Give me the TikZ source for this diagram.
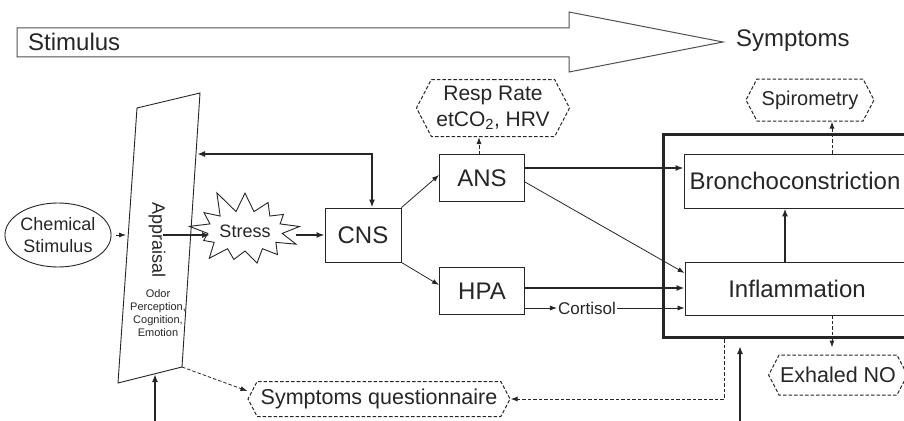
\documentclass[tikz,border=0pt]{standalone}
\usepackage{fontspec}
\setmainfont{Liberation Sans}
\usetikzlibrary{shapes.symbols,shapes.geometric,arrows.meta,calc}
\definecolor{ink}{HTML}{262626}
\definecolor{arrowgray}{HTML}{505050}
\newcommand\fzBig{\fontsize{24}{28}\selectfont}
\newcommand\fzMid{\fontsize{18}{22}\selectfont}
\newcommand\fzHex{\fontsize{21}{26}\selectfont}
\newcommand\fzSmall{\fontsize{11}{13}\selectfont}
\begin{document}
\begin{tikzpicture}[x=1pt,y=-1pt,
  every node/.style={text=ink, font=\fzBig},
  box/.style={draw=ink, line width=0.9pt, rectangle, inner sep=0pt},
  hexa/.style={draw=ink, line width=1pt, dash pattern=on 3.5pt off 2pt, signal, signal to=west and east, signal pointer angle=125, inner sep=1pt},
  thinarr/.style={draw=ink, line width=0.8pt, -{Latex[length=7pt,width=5pt]}},
  thkarr/.style={draw=ink, line width=2pt, -{Latex[length=8pt,width=6pt]}},
  dsharr/.style={draw=ink, line width=1pt, dash pattern=on 3.5pt off 2pt, -{Latex[length=7pt,width=5pt]}},
]
\clip (0,0) rectangle (904,420);
\fill[white] (0,0) rectangle (904,420);

% big arrow
\draw[arrowgray, line width=1pt] (17,28) -- (569,28) -- (569,12) -- (723,42) -- (569,72) -- (569,57) -- (17,57) -- cycle;
\node[anchor=west, inner sep=0] (stim) at (28,42) {Stimulus};
\node[anchor=west, inner sep=0] (symp) at (736,41) {Symptoms};

% chemical stimulus
\node[ellipse, draw=ink, line width=0.9pt, minimum width=96pt, minimum height=64pt, inner sep=0, align=center, font=\fzMid] (chem) at (58,235) {Chemical\\Stimulus};

% appraisal
\coordinate (ap1) at (137,108);
\coordinate (ap2) at (200,93);
\coordinate (ap3) at (182,367);
\coordinate (ap4) at (118,383);
\draw[ink, line width=0.9pt] (ap1) -- (ap2) -- (ap3) -- (ap4) -- cycle;
\node[rotate=-90, font=\fzMid, inner sep=0] (appr) at (157,240) {Appraisal};
\node[font=\fzSmall, align=center, inner sep=0] (odor) at (158,313) {Odor\\Perception,\\Cognition,\\Emotion};
\coordinate (apin) at (126,235);
\coordinate (apmid) at (163,235);
\coordinate (apfb) at (197,154);
\coordinate (apbot) at (155,374);

% stress
\node[starburst, draw=ink, line width=0.9pt, starburst points=13, starburst point height=24pt, random starburst=11, minimum width=104pt, minimum height=88pt, inner sep=1pt, font=\fzMid] (stress) at (245,231) {Stress};
\coordinate (stressin) at (210,235);
\coordinate (stressout) at (296,235);

% boxes
\node[box, minimum width=76pt, minimum height=54pt] (cns) at (363,235) {CNS};
\node[box, minimum width=85pt, minimum height=47pt] (ans) at (482,178) {ANS};
\node[box, minimum width=85pt, minimum height=47pt] (hpa) at (482,291) {HPA};
\node[font=\fontsize{17}{20}\selectfont, inner sep=1pt] (cort) at (587,308) {Cortisol};

\node[draw=ink, line width=3pt, minimum width=268pt, minimum height=203pt, anchor=north west, inner sep=0] (body) at (662,133) {};
\node[box, minimum width=222pt, minimum height=54pt] (bron) at (795,181) {Bronchoconstriction};
\node[box, minimum width=224pt, minimum height=53pt] (infl) at (797,288.5) {Inflammation};

% measurement hexagons
\node[hexa, align=center, font=\fzHex, minimum width=153pt, minimum height=57pt] (resp) at (493,108) {Resp Rate\\etCO\textsubscript{2}, HRV};
\node[hexa, font=\fontsize{20}{24}\selectfont, minimum width=128pt, minimum height=42pt] (spiro) at (810,100) {Spirometry};
\node[hexa, font=\fontsize{21.5}{26}\selectfont, minimum width=127pt, minimum height=40pt] (exno) at (838,375) {Exhaled NO};
\node[hexa, font=\fontsize{21.5}{26}\selectfont, minimum width=262pt, minimum height=35pt] (sq) at (379,399) {Symptoms questionnaire};

% connectors
\draw[thinarr] ($(chem.east)+(4,0)$) -- (apin);
\draw[thkarr] (apmid) -- (stressin);
\draw[thkarr] (stressout) -- (cns.west);
\draw[ink, line width=1.8pt, {Latex[length=8pt,width=6pt]}-{Latex[length=8pt,width=6pt]}] (apfb) -| ($(cns.north)+(9,0)$);
\draw[thinarr] (cns.north east) -- ($(ans.west)+(0,-3)$);
\draw[thinarr] (cns.south east) -- ($(hpa.west)+(0,-6)$);
\draw[dsharr] ($(ans.north)+(-3,0)$) -- ($(resp.south)+(-14,0)$);
\draw[thkarr] ($(ans.east)+(0,-10)$) -- ($(bron.west)+(0,-13)$);
\draw[thinarr] ($(ans.east)+(0,4)$) -- ($(infl.west)+(0,-15.5)$);
\draw[thkarr] ($(hpa.east)+(0,-3)$) -- ($(infl.west)+(0,-0.5)$);
\draw[thinarr] ($(hpa.east)+(0,17)$) -- (cort.west);
\draw[thinarr] (cort.east) -- ($(infl.west)+(0,19.5)$);
\draw[thkarr] ($(infl.north)+(-12,0)$) -- ($(bron.south)+(-10,0)$);
\draw[dsharr] ($(bron.north)+(37,0)$) -- ($(spiro.south)+(22,0)$);
\draw[dsharr] ($(infl.south)+(35,0)$) -- ($(exno.north)+(-6,-7)$);
\draw[dsharr] ($(body.south west)+(62,0)$) |- (sq.east);
\draw[dsharr, line width=0.8pt] (ap3) -- ($(sq.west)+(0,-8)$);
\coordinate (bot1) at (155,425);
\coordinate (bot2) at (740,425);
\draw[thkarr] (bot1) -- (apbot);
\draw[thkarr] (bot2) -- ($(body.south west)+(78,7)$);
\end{tikzpicture}
\end{document}
